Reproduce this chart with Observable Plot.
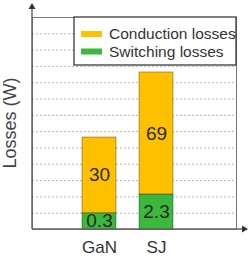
<!DOCTYPE html>
<html><head><meta charset="utf-8">
<script src="https://cdn.jsdelivr.net/npm/d3@7"></script>
<script src="https://cdn.jsdelivr.net/npm/@observablehq/plot@0.6"></script>
<style>
html,body{margin:0;padding:0;background:#fff;}
#chart{width:248px;height:258px;}
</style></head><body><div id="chart"></div>
<script>
const categories = ["GaN", "SJ"];
const seriesNames = ["Switching losses", "Conduction losses"];
// drawn (schematic) segment heights, in grid units
const switchingHeights = [1.0, 2.15];
const conductionHeights = [4.64, 7.48];
// value labels printed in the segments
const switchingLabels = ["0.3", "2.3"];
const conductionLabels = ["30", "69"];
const gridTicks = [1, 2, 3, 4, 5, 6, 7, 8, 9, 10, 11, 12];
const yMax = 13;
const yLabel = "Losses (W)";
const seriesColors = ["#3cb83c", "#ffc000"];
const legendOrder = ["Conduction losses", "Switching losses"];
const legendColors = ["#ffc000", "#3cb83c"];

const rows = [];
categories.forEach((c, i) => {
  rows.push({cat: c, series: seriesNames[0], h: switchingHeights[i], label: switchingLabels[i]});
  rows.push({cat: c, series: seriesNames[1], h: conductionHeights[i], label: conductionLabels[i]});
});

const font = "'Liberation Sans', Arial, sans-serif";
const W = 248, H = 258, mL = 32, mR = 12, mT = 17, mB = 29;

const plot = Plot.plot({
  width: W, height: H,
  marginLeft: mL, marginRight: mR, marginTop: mT, marginBottom: mB,
  style: {fontFamily: font, background: "#fff", overflow: "visible"},
  x: {domain: categories, range: [70.5, 185.5], paddingInner: 0.4, paddingOuter: 0.2, axis: null},
  y: {domain: [0, yMax], axis: null},
  color: {domain: seriesNames, range: seriesColors},
  marks: [
    Plot.gridY(gridTicks, {stroke: "#b8b8b8", strokeOpacity: 1, strokeDasharray: "2,2", strokeWidth: 1}),
    Plot.frame({stroke: "#777"}),
    Plot.barY(rows, Plot.stackY({x: "cat", y: "h", fill: "series", order: null,
      stroke: "#000", strokeOpacity: 0.32, strokeWidth: 1})),
    Plot.text(rows, Plot.stackY({x: "cat", y: "h", text: "label", order: null,
      fontSize: 19, fill: "#2a2a2a"})),
    Plot.text(categories, {x: d => d, text: d => d, frameAnchor: "bottom", lineAnchor: "top",
      dy: 11, fontSize: 17, fill: "#333"})
  ]
});

document.getElementById("chart").appendChild(plot);

const svg = d3.select(plot);
const yS = plot.scale("y");
const yb = yS.apply(0);
const yMid = (yS.apply(0) + yS.apply(yMax)) / 2;

// y label
svg.append("text")
  .attr("transform", `translate(10,${yMid}) rotate(-90)`)
  .attr("text-anchor", "middle").attr("dy", "0.35em")
  .attr("font-family", font).attr("font-size", 18).attr("fill", "#444")
  .text(yLabel);

// axis arrows
const axisTop = yS.apply(yMax + 0.55);
const g = svg.append("g");
g.append("line").attr("x1", mL).attr("x2", mL).attr("y1", yb).attr("y2", axisTop)
  .attr("stroke", "#666").attr("stroke-width", 1.5);
g.append("path").attr("d", `M${mL - 3.5},${axisTop + 1}L${mL},${axisTop - 5}L${mL + 3.5},${axisTop + 1}Z`).attr("fill", "#333");
const axisRight = W - 5;
g.append("line").attr("x1", mL).attr("x2", axisRight).attr("y1", yb).attr("y2", yb)
  .attr("stroke", "#666").attr("stroke-width", 1.5);
g.append("path").attr("d", `M${axisRight - 1},${yb - 3.5}L${axisRight + 5},${yb}L${axisRight - 1},${yb + 3.5}Z`).attr("fill", "#333");

// legend
const lx = 74, ly = mT, lw = W - mR - lx, lh = 48;
const lg = svg.append("g").attr("font-family", font).attr("text-anchor", "start");
lg.append("rect").attr("x", lx).attr("y", ly).attr("width", lw).attr("height", lh)
  .style("fill", "#fff").style("stroke", "#3a3a3a").style("stroke-width", 1.3);
legendOrder.forEach((name, i) => {
  const cy = ly + 17 + i * 17.5;
  lg.append("rect").attr("x", lx + 7).attr("y", cy - 3).attr("width", 21).attr("height", 6)
    .style("fill", legendColors[i]);
  lg.append("text").attr("x", lx + 35).attr("y", cy).attr("dy", "0.35em")
    .attr("font-size", 15.5).style("fill", "#333").text(name);
});
</script></body></html>
